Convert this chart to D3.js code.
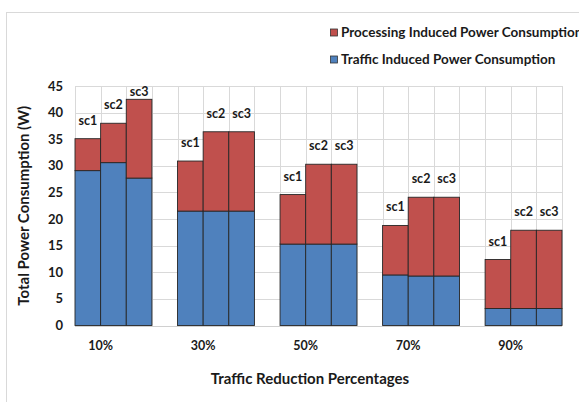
<!DOCTYPE html>
<html>
<head>
<meta charset="utf-8">
<script src="https://cdn.jsdelivr.net/npm/d3@7"></script>
<style>
  html, body { margin: 0; padding: 0; background: #fff; }
  svg { display: block; }
  text { font-family: Lato, "Open Sans", sans-serif; font-weight: 700; fill: #1a1a1a; }
</style>
</head>
<body>
<svg id="chart" width="579" height="402"></svg>
<script>
// ---- data ----
const categories = ["10%", "30%", "50%", "70%", "90%"];
const scenarios = ["sc1", "sc2", "sc3"];
const trafficPower = [
  [29.1, 30.6, 27.7],
  [21.5, 21.5, 21.5],
  [15.3, 15.3, 15.3],
  [9.5, 9.3, 9.3],
  [3.2, 3.2, 3.2]
];
const processingPower = [
  [6.0, 7.4, 14.8],
  [9.4, 14.9, 14.9],
  [9.3, 15.0, 15.0],
  [9.3, 14.8, 14.8],
  [9.2, 14.7, 14.7]
];
const yTicks = [0, 5, 10, 15, 20, 25, 30, 35, 40, 45];
const seriesNames = ["Processing Induced Power Consumption", "Traffic Induced Power Consumption"];
const seriesColors = ["#C0504D", "#4F81BD"];
const xTitle = "Traffic Reduction Percentages";
const yTitle = "Total Power Consumption (W)";

// ---- layout ----
const svg = d3.select("#chart");
const plot = { left: 75, right: 562, top: 86, bottom: 325.5 };

// outer chart border
svg.append("rect")
  .attr("x", 6.5).attr("y", 12.5)
  .attr("width", 600).attr("height", 420)
  .attr("fill", "none").attr("stroke", "#d9d9d9").attr("stroke-width", 1);

const x0 = d3.scaleBand().domain(categories)
  .range([plot.left, plot.right]).paddingInner(0.25).paddingOuter(0);
const x1 = d3.scaleBand().domain(scenarios).range([0, x0.bandwidth()]).padding(0);
const y = d3.scaleLinear().domain([0, 45]).range([plot.bottom, plot.top]);

// horizontal gridlines
svg.append("g").selectAll("line").data(yTicks.filter(d => d > 0)).join("line")
  .attr("x1", plot.left).attr("x2", plot.right)
  .attr("y1", d => Math.round(y(d)) + 0.5).attr("y2", d => Math.round(y(d)) + 0.5)
  .attr("stroke", "#d9d9d9").attr("stroke-width", 1);

// vertical gridlines at every slot boundary
const vBounds = [plot.left];
categories.forEach(c => {
  scenarios.forEach((s, i) => { if (i > 0) vBounds.push(x0(c) + x1(s)); });
  vBounds.push(x0(c) + x0.bandwidth());
  if (x0(c) + x0.bandwidth() + x0.step() * 0.25 <= plot.right + 1) vBounds.push(x0(c) + x0.step());
});
svg.append("g").selectAll("line").data(vBounds).join("line")
  .attr("x1", d => Math.round(d) + 0.5).attr("x2", d => Math.round(d) + 0.5)
  .attr("y1", y(45)).attr("y2", y(0))
  .attr("stroke", "#d9d9d9").attr("stroke-width", 1);

// baseline
svg.append("line")
  .attr("x1", plot.left).attr("x2", plot.right)
  .attr("y1", Math.round(y(0)) + 0.5).attr("y2", Math.round(y(0)) + 0.5)
  .attr("stroke", "#d0d0d0").attr("stroke-width", 1);

// bars
const barData = [];
categories.forEach((c, ci) => {
  scenarios.forEach((s, si) => {
    const t = trafficPower[ci][si], p = processingPower[ci][si];
    barData.push({ c, s, y0: 0, y1: t, color: seriesColors[1] });
    barData.push({ c, s, y0: t, y1: t + p, color: seriesColors[0] });
  });
});
svg.append("g").selectAll("rect").data(barData).join("rect")
  .attr("x", d => x0(d.c) + x1(d.s))
  .attr("width", x1.bandwidth())
  .attr("y", d => y(d.y1))
  .attr("height", d => y(d.y0) - y(d.y1))
  .attr("fill", d => d.color)
  .attr("stroke", "#262626").attr("stroke-width", 0.9);

// scenario labels
const labelData = [];
categories.forEach((c, ci) => {
  scenarios.forEach((s, si) => {
    const total = trafficPower[ci][si] + processingPower[ci][si];
    labelData.push({ c, s, total });
  });
});
svg.append("g").selectAll("text").data(labelData).join("text")
  .attr("x", d => x0(d.c) + x1(d.s) + x1.bandwidth() / 2)
  .attr("y", d => Math.max(y(d.total) - 14, plot.top + 10))
  .attr("text-anchor", "middle")
  .attr("font-size", 12.5)
  .text(d => d.s);

// y axis tick labels
svg.append("g").selectAll("text").data(yTicks).join("text")
  .attr("x", 63).attr("y", d => y(d))
  .attr("dy", "0.35em")
  .attr("text-anchor", "end")
  .attr("font-size", 13)
  .text(d => d);

// x axis category labels
svg.append("g").selectAll("text").data(categories).join("text")
  .attr("x", d => x0(d) + x1("sc2"))
  .attr("y", 350)
  .attr("text-anchor", "middle")
  .attr("font-size", 12.5)
  .text(d => d);

// axis titles
svg.append("text")
  .attr("x", 310).attr("y", 384)
  .attr("text-anchor", "middle")
  .attr("font-size", 15)
  .text(xTitle);
svg.append("text")
  .attr("transform", `translate(29,${(plot.top + plot.bottom) / 2}) rotate(-90)`)
  .attr("text-anchor", "middle")
  .attr("font-size", 15)
  .text(yTitle);

// legend
const legend = svg.append("g");
seriesNames.forEach((name, i) => {
  const ly = 32.5 + i * 27;
  legend.append("rect")
    .attr("x", 330.5).attr("y", ly - 3.5)
    .attr("width", 7).attr("height", 7)
    .attr("fill", seriesColors[i]).attr("stroke", "#333").attr("stroke-width", 0.8);
  legend.append("text")
    .attr("x", 341).attr("y", ly)
    .attr("dy", "0.36em")
    .attr("font-size", 13.5)
    .text(name);
});
</script>
</body>
</html>
